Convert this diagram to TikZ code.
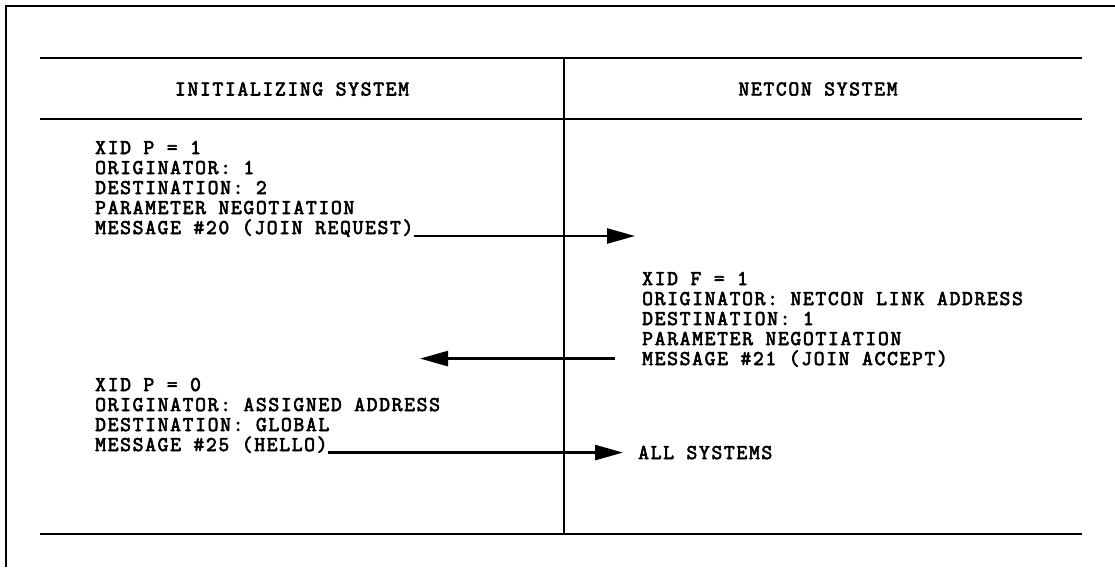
\documentclass[tikz,border=0pt]{standalone}
\usepackage{fontspec}
\newfontfamily\tw{Latin Modern Mono}[LetterSpace=8,FakeBold=3]
\usetikzlibrary{arrows.meta}
\begin{document}
\begin{tikzpicture}[x=1pt,y=-1pt,
  txt/.style={font=\fontsize{21}{20}\selectfont\tw, inner sep=0pt, anchor=base west},
  hdr/.style={font=\fontsize{21}{20}\selectfont\tw, inner sep=0pt},
  rulel/.style={line width=2pt},
  framel/.style={line width=1.5pt},
  msg/.style={line width=2.5pt, -{Triangle[length=28pt,width=15pt]}}]
\useasboundingbox (0,0) rectangle (1115,567);
% outer frame (top and left edges)
\draw[framel] (6,567) -- (6,6) -- (1115,6);
% table rules
\draw[rulel] (40,58) -- (1082,58);
\draw[rulel] (40,119) -- (1082,119);
\draw[rulel] (40,534) -- (1082,534);
\draw[rulel] (564,58) -- (564,534);
% headers
\node[hdr] (h1) at (292,89) {INITIALIZING SYSTEM};
\node[hdr] (h2) at (818,89) {NETCON SYSTEM};
% block 1
\node[txt] (a1) at (95,154) {XID P = 1};
\node[txt] (a2) at (95,174) {ORIGINATOR: 1};
\node[txt] (a3) at (95,194) {DESTINATION: 2};
\node[txt] (a4) at (95,214) {PARAMETER NEGOTIATION};
\node[txt] (m20) at (95,234) {MESSAGE \#20 (JOIN REQUEST)};
% block 2
\node[txt] (b1) at (642,285) {XID F = 1};
\node[txt] (b2) at (642,305) {ORIGINATOR: NETCON LINK ADDRESS};
\node[txt] (b3) at (642,325) {DESTINATION: 1};
\node[txt] (b4) at (642,345) {PARAMETER NEGOTIATION};
\node[txt] (m21) at (642,365) {MESSAGE \#21 (JOIN ACCEPT)};
% block 3
\node[txt] (c1) at (95,391) {XID P = 0};
\node[txt] (c2) at (95,411) {ORIGINATOR: ASSIGNED ADDRESS};
\node[txt] (c3) at (95,431) {DESTINATION: GLOBAL};
\node[txt] (m25) at (95,451) {MESSAGE \#25 (HELLO)};
\node[txt] (all) at (638,459) {ALL SYSTEMS};
% arrows
\coordinate (t1) at (635,236);
\coordinate (t2) at (420,362);
\draw[msg] (m20.base east |- t1) -- (t1);
\draw[msg] ([xshift=-27pt]m21.west) -- (t2 |- m21.west);
\draw[msg] (m25.base east |- all.west) -- ([xshift=-15pt]all.west);
\end{tikzpicture}
\end{document}
